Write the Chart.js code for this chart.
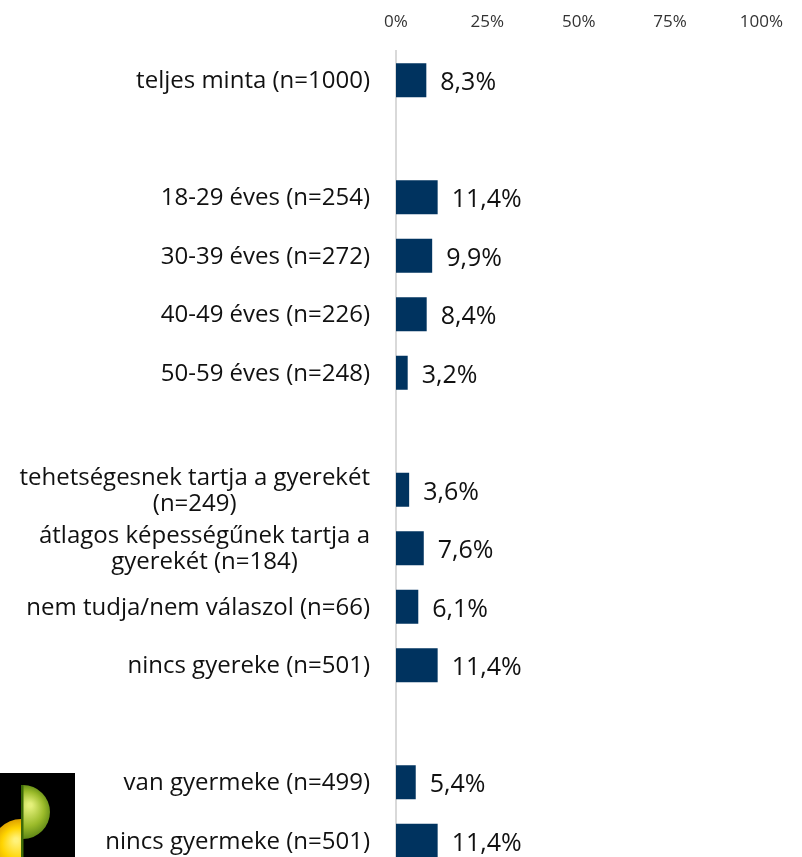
<!DOCTYPE html>
<html>
<head>
<meta charset="utf-8">
<script src="https://cdn.jsdelivr.net/npm/chart.js@4"></script>
<style>
    html, body { margin: 0; padding: 0; overflow: hidden; background: #fff; }
    #wrap { width: 802px; height: 872px; }
</style>
</head>
<body>
<div id="wrap"><canvas id="chart" width="802" height="872"></canvas></div>
<script>
// categories (empty strings are the spacer rows between groups)
const categories = [
    ['teljes minta (n=1000)'],
    [''],
    ['18-29 éves (n=254)'],
    ['30-39 éves (n=272)'],
    ['40-49 éves (n=226)'],
    ['50-59 éves (n=248)'],
    [''],
    ['tehetségesnek tartja a gyerekét', '(n=249)'],
    ['átlagos képességűnek tartja a', 'gyerekét (n=184)'],
    ['nem tudja/nem válaszol (n=66)'],
    ['nincs gyereke (n=501)'],
    [''],
    ['van gyermeke (n=499)'],
    ['nincs gyermeke (n=501)']
];
const values = [8.3, null, 11.4, 9.9, 8.4, 3.2, null, 3.6, 7.6, 6.1, 11.4, null, 5.4, 11.4];
const xTicks = [0, 25, 50, 75, 100];

const FONT = "'Open Sans', sans-serif";

// category labels: block right-aligned, lines centered inside the block
const leftLabels = {
    id: 'leftLabels',
    afterDraw(chart) {
        const { ctx, scales: { y } } = chart;
        ctx.save();
        ctx.font = '24px ' + FONT;
        ctx.fillStyle = '#111';
        ctx.textAlign = 'center';
        ctx.textBaseline = 'middle';
        const right = 370, lh = 26;
        categories.forEach((lines, i) => {
            const cy = y.getPixelForValue(i) + 1;
            const w = Math.max(...lines.map(l => ctx.measureText(l).width));
            const top = cy - (lines.length - 1) * lh / 2;
            lines.forEach((l, j) => ctx.fillText(l, right - w / 2, top + j * lh));
        });
        ctx.restore();
    }
};

const valueLabels = {
    id: 'valueLabels',
    afterDatasetsDraw(chart) {
        const { ctx } = chart;
        const meta = chart.getDatasetMeta(0);
        ctx.save();
        ctx.font = '25px ' + FONT;
        ctx.fillStyle = '#111';
        ctx.textBaseline = 'middle';
        meta.data.forEach((bar, i) => {
            if (values[i] == null) return;
            ctx.fillText(values[i].toFixed(1).replace('.', ',') + '%', bar.x + 14, bar.y + 3);
        });
        ctx.restore();
    }
};

// logo in the lower left corner
const logo = {
    id: 'logo',
    afterDraw(chart) {
        const ctx = chart.ctx;
        ctx.save();
        ctx.fillStyle = '#000';
        ctx.fillRect(0, 773, 75, 100);
        let g = ctx.createRadialGradient(16, 840, 2, 20, 848, 30);
        g.addColorStop(0, '#fff27a');
        g.addColorStop(0.5, '#ffd400');
        g.addColorStop(1, '#d99a00');
        ctx.fillStyle = g;
        ctx.beginPath();
        ctx.arc(21, 848, 29, Math.PI / 2, Math.PI * 1.5);
        ctx.closePath();
        ctx.fill();
        g = ctx.createRadialGradient(30, 805, 2, 24, 812, 30);
        g.addColorStop(0, '#e4f07a');
        g.addColorStop(0.55, '#9bbb2a');
        g.addColorStop(1, '#4f7a10');
        ctx.fillStyle = g;
        ctx.beginPath();
        ctx.arc(23, 812, 27, -Math.PI / 2, Math.PI / 2);
        ctx.closePath();
        ctx.fill();
        ctx.fillStyle = '#3d6a08';
        ctx.fillRect(21, 785, 2.5, 80);
        ctx.restore();
    }
};

new Chart(document.getElementById('chart'), {
    type: 'bar',
    data: {
        labels: categories.map(c => c.join(' ')),
        datasets: [{
            data: values,
            backgroundColor: '#00335f',
            borderWidth: 0,
            barPercentage: 0.58,
            categoryPercentage: 1
        }]
    },
    options: {
        indexAxis: 'y',
        responsive: false,
        animation: false,
        layout: { padding: { top: 0, right: 28, bottom: 2, left: 0 } },
        plugins: { legend: { display: false }, tooltip: { enabled: false } },
        scales: {
            x: {
                position: 'top',
                min: 0,
                max: 100,
                afterBuildTicks(axis) { axis.ticks = xTicks.map(v => ({ value: v })); },
                afterFit(axis) { axis.height = 51; },
                grid: { display: false, drawTicks: false },
                border: { display: false },
                ticks: {
                    padding: 19,
                    color: '#333',
                    font: { family: FONT, size: 17 },
                    callback: v => v + '%'
                }
            },
            y: {
                afterFit(axis) { axis.width = 396; },
                grid: { display: false, drawTicks: false },
                border: { color: '#d9d9d9', width: 2 },
                ticks: { display: false }
            }
        }
    },
    plugins: [leftLabels, valueLabels, logo]
});
</script>
</body>
</html>
